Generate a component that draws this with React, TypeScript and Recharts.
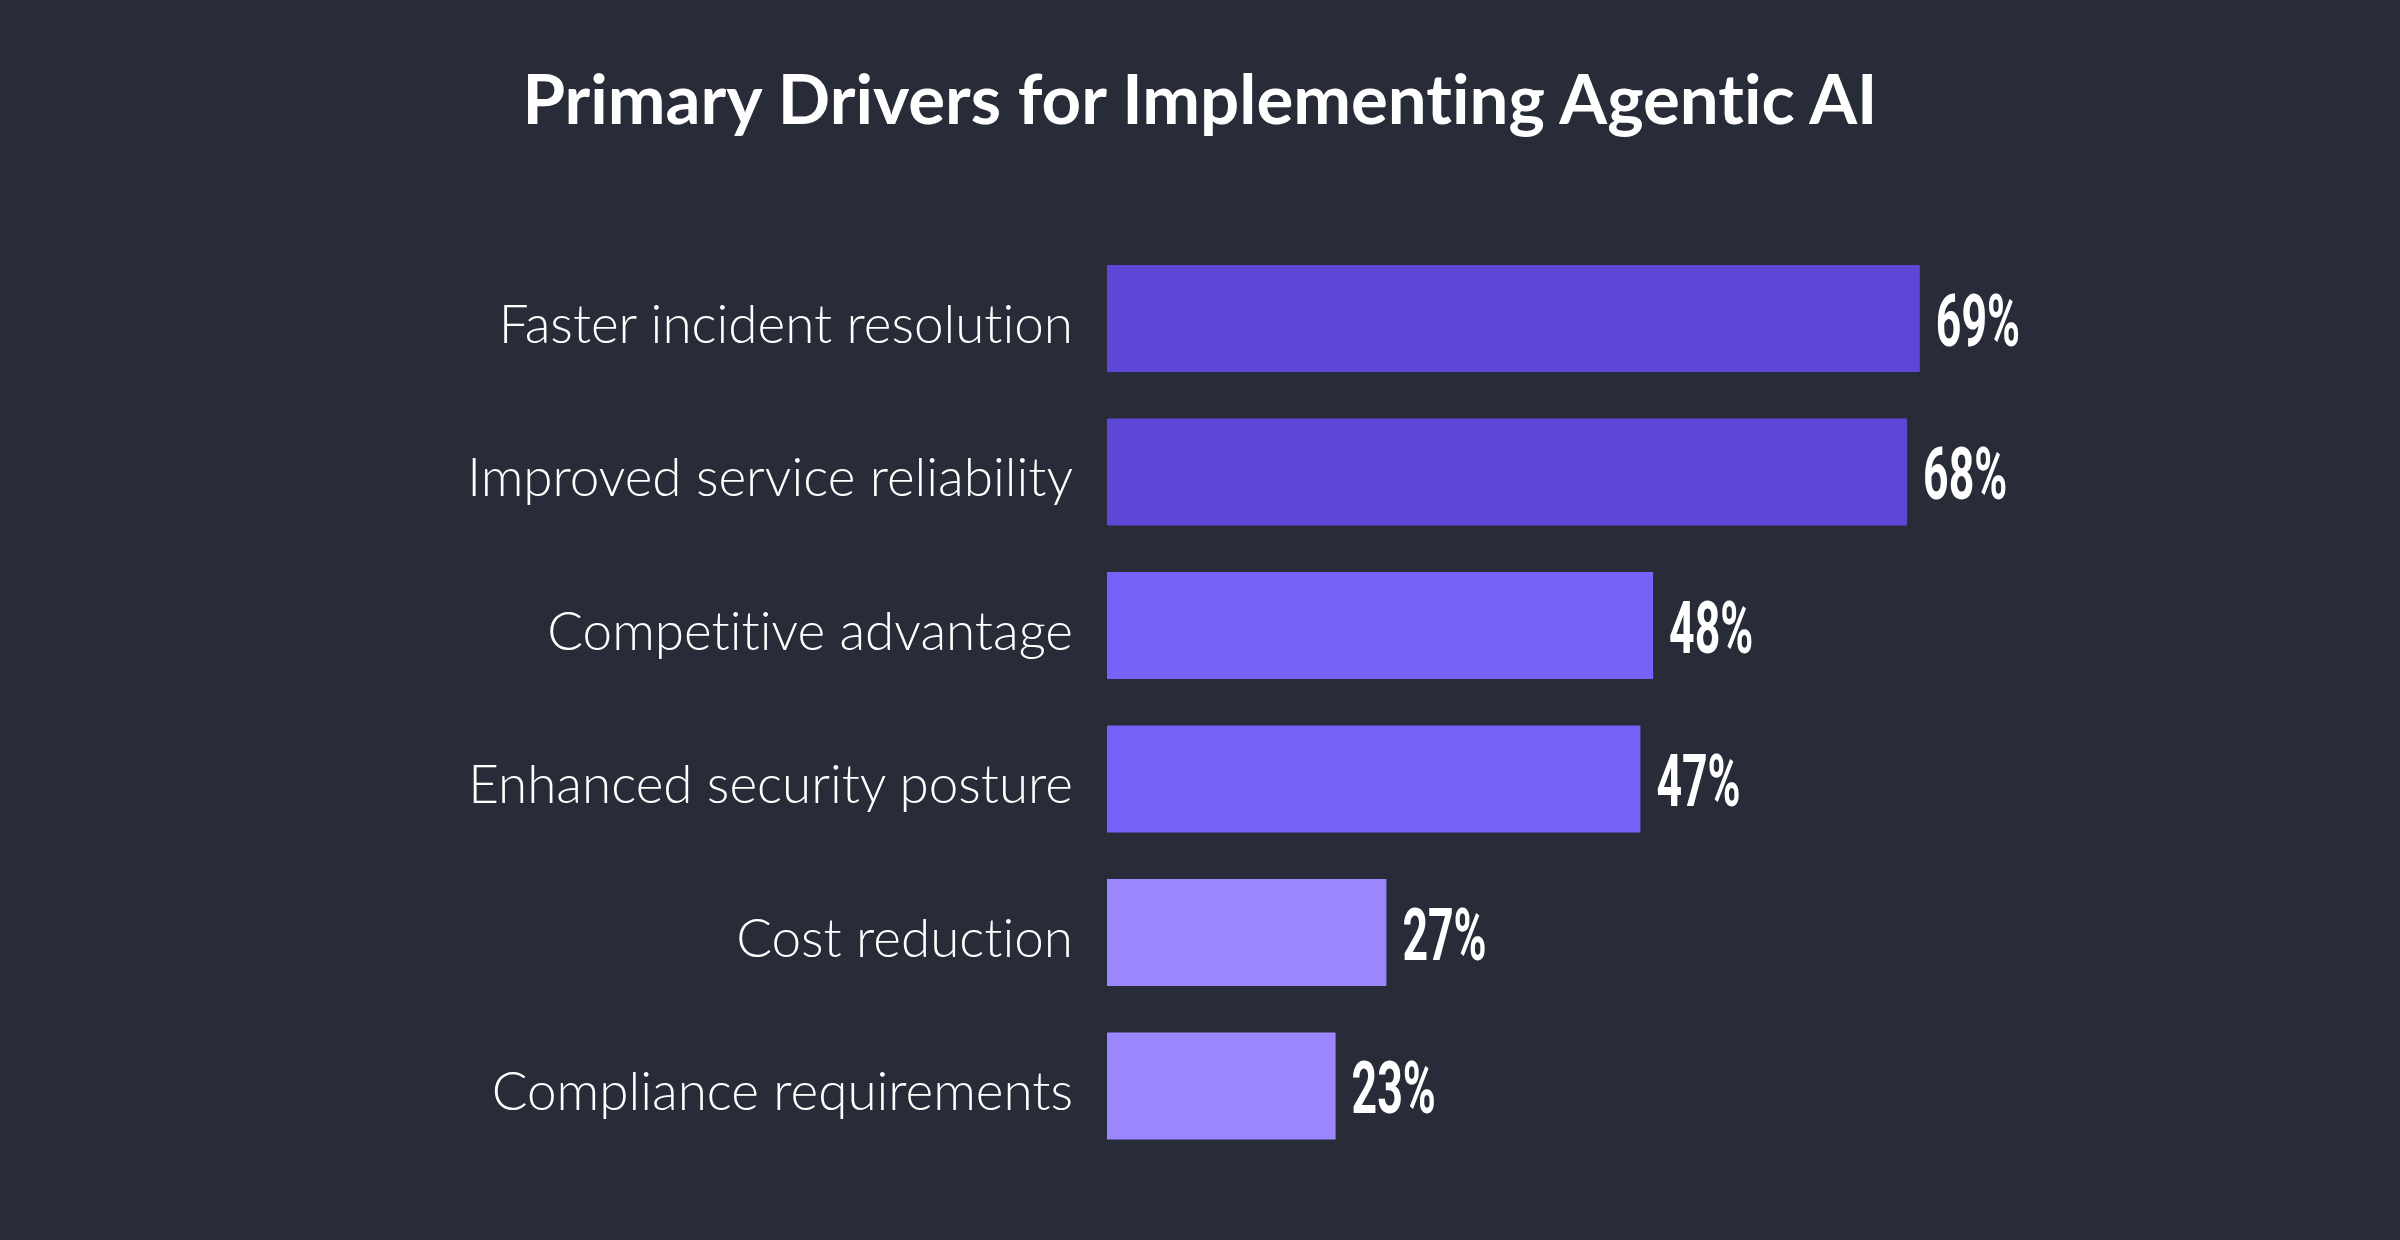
import React from 'react';
import { BarChart, Bar, XAxis, YAxis, Cell, LabelList } from 'recharts';

// Survey results, top to bottom as drawn
const drivers = [
  'Faster incident resolution',
  'Improved service reliability',
  'Competitive advantage',
  'Enhanced security posture',
  'Cost reduction',
  'Compliance requirements',
];
const shares = [69, 68, 48, 47, 27, 23];

const barColors = ['#5e47d6', '#5e47d6', '#7563f9', '#7563f9', '#9b86fd', '#9b86fd'];

const chartData = drivers.map((name, i) => ({ name, value: shares[i] }));

const DriverTick = ({ x, y, payload }: any) => (
  <text
    x={x}
    y={y}
    dy={24}
    textAnchor="end"
    fill="#ffffff"
    fontFamily="Lato, sans-serif"
    fontWeight={300}
    fontSize={53}
    style={{ fontVariantLigatures: 'none' }}
  >
    {payload.value}
  </text>
);

const ShareLabel = ({ x, y, width, height, value }: any) => {
  const tx = x + width + 16;
  const ty = y + height / 2 + 27;
  return (
    <text
      transform={`translate(${tx},${ty}) scale(0.62,1)`}
      x={0}
      y={0}
      fill="#ffffff"
      fontFamily="Roboto, sans-serif"
      fontWeight={700}
      fontSize={72}
    >
      {`${value}%`}
    </text>
  );
};

const App: React.FC = () => {
  return (
    <div
      style={{
        position: 'absolute',
        left: 0,
        top: 0,
        width: 2400,
        height: 1240,
        background: '#272c38',
        overflow: 'hidden',
      }}
    >
      <div
        style={{
          position: 'absolute',
          left: 0,
          top: 63,
          width: 2400,
          textAlign: 'center',
          color: '#ffffff',
          fontFamily: 'Lato, sans-serif',
          fontWeight: 700,
          fontSize: 69,
          lineHeight: '69px',
          fontVariantLigatures: 'none',
        }}
      >
        Primary Drivers for Implementing Agentic AI
      </div>
      <BarChart
        width={2400}
        height={1240}
        data={chartData}
        layout="vertical"
        margin={{ top: 242, right: 404, bottom: 77, left: 0 }}
        barSize={107}
      >
        <XAxis type="number" domain={[5, 75]} hide />
        <YAxis
          type="category"
          dataKey="name"
          width={1107}
          axisLine={false}
          tickLine={false}
          tickSize={0}
          tickMargin={34}
          tick={<DriverTick />}
          interval={0}
        />
        <Bar dataKey="value" isAnimationActive={false}>
          {chartData.map((d, i) => (
            <Cell key={d.name} fill={barColors[i]} />
          ))}
          <LabelList dataKey="value" content={<ShareLabel />} />
        </Bar>
      </BarChart>
    </div>
  );
};

export default App;
